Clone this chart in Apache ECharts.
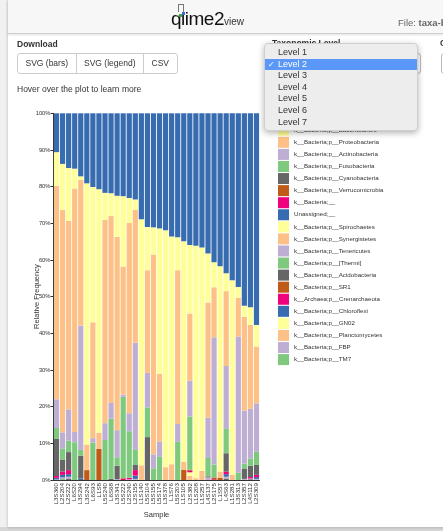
<!DOCTYPE html>
<html>
<head>
<meta charset="utf-8">
<script src="https://cdn.jsdelivr.net/npm/echarts@6/dist/echarts.min.js"></script>
<style>
  html, body { margin: 0; padding: 0; }
  body { width: 443px; height: 531px; overflow: hidden; background: #d6d6d6; font-family: "Liberation Sans", Arial, Helvetica, sans-serif; position: relative; }
  #panel { position: absolute; left: 8px; top: 0; width: 440px; height: 527px; background: #fff; box-shadow: 0 0 3px rgba(0,0,0,0.25); }
  #lside { position: absolute; left: 0; top: 0; width: 8px; height: 527px; background: #f1f1f1; }
  #header { position: absolute; left: 8px; top: 0; width: 440px; height: 33px; background: #f7f7f7; border-bottom: 1px solid #cfcfcf; box-shadow: 0 1px 2px rgba(0,0,0,0.12); z-index: 3; }
  #logo { position: absolute; left: 163px; top: 8px; font-size: 19px; color: #111; letter-spacing: -0.5px; }
  #logo small { font-size: 10px; color: #333; letter-spacing: 0; }
  #logo .dot { position: absolute; width: 3px; height: 3px; }
  #file { position: absolute; left: 390px; top: 17px; font-size: 9.5px; color: #666; white-space: nowrap; }
  #chart { position: absolute; left: 0; top: 0; width: 443px; height: 531px; z-index: 2; }
  .lbl { position: absolute; font-size: 8.5px; font-weight: bold; color: #333; z-index: 3; white-space: nowrap; }
  #btns { position: absolute; left: 17px; top: 53px; height: 19px; display: flex; border: 1px solid #ccc; border-radius: 3px; z-index: 3; background: #fff; }
  #btns div { font-size: 8.5px; color: #333; line-height: 19px; padding: 0 7.5px; border-right: 1px solid #ccc; }
  #btns div:last-child { border-right: none; }
  #hover { position: absolute; left: 17px; top: 84px; font-size: 8.5px; color: #333; z-index: 3; }
  .sel { position: absolute; top: 53px; height: 19px; border: 1px solid #bbb; border-radius: 3px; background: #fff; z-index: 3; }
  #menu { position: absolute; left: 264px; top: 43px; width: 152px; height: 86px; background: #ededed; border-radius: 4px; box-shadow: 0 2px 6px rgba(0,0,0,0.3); border: 1px solid #cfcfcf; z-index: 4; }
  #menu div { position: absolute; left: 0; width: 152px; height: 11.6px; line-height: 11.6px; font-size: 9px; color: #333; padding-left: 13px; box-sizing: border-box; }
  #menu div.on { background: #5a97f6; color: #fff; }
  #menu div.on span { position: absolute; left: 3px; font-size: 8px; }
</style>
</head>
<body>
<div id="lside"></div>
<div id="panel"></div>
<div id="header">
  <div id="logo">qiime2<small>view</small>
    <span class="dot" style="left:7px;top:-4px;width:4px;height:7px;border:1px solid #777;border-bottom:none;background:transparent"></span>
    <span class="dot" style="left:11px;top:4px;background:#3b6fd6"></span>
    <span class="dot" style="left:8px;top:6px;background:#33a84a"></span>
  </div>
  <div id="file">File: <b>taxa-bar-plots.qzv</b></div>
</div>
<div class="lbl" style="left:17px;top:39px">Download</div>
<div id="btns"><div>SVG (bars)</div><div>SVG (legend)</div><div>CSV</div></div>
<div id="hover">Hover over the plot to learn more</div>
<div class="lbl" style="left:272px;top:38px">Taxonomic Level</div>
<div class="sel" style="left:264px;width:155px"></div>
<div class="lbl" style="left:440px;top:38px">Color Palette</div>
<div class="sel" style="left:441px;width:60px"></div>
<div id="menu"></div>
<div id="chart"></div>
<script>
// Taxonomic level picker entries
const levels = ['Level 1', 'Level 2', 'Level 3', 'Level 4', 'Level 5', 'Level 6', 'Level 7'];
const currentLevel = 'Level 2';

// Sample ids, in plotting order
const samples = ['L3S360','L2S204','L2S222','L6S20','L3S294','L3S242','L6S93','L1S8','L5S240','L6S68',
  'L3S341','L5S222','L2S240','L2S155','L1S140','L5S104','L5S155','L5S174','L3S378','L1S76',
  'L5S203','L1S105','L2S382','L1S208','L1S257','L4S137','L2S175','L1S57','L4S63','L1S281',
  'L3S313','L2S357','L4S112','L2S309'];

// Relative abundance (%) per phylum and sample
const firmicutes      = [10.6,13.8,14.9,15.1,17.2,19.1,20.1,20.7,21.7,21.8,22.5,22.6,23.1,23.5,28.9,31.0,31.1,31.4,31.9,33.6,33.8,34.9,35.9,36.1,36.6,38.2,40.5,41.7,43.6,45.5,47.4,52.5,52.9,57.7];
const bacteroidetes   = [9.2,12.6,14.4,5.4,1.0,71.2,36.9,66.4,7.4,6.2,11.2,19.2,6.8,2.9,67.1,11.8,7.4,39.6,64.6,62.1,9.0,60.1,18.7,63.4,60.9,13.4,6.8,56.0,4.9,53.1,2.9,3.0,4.8,5.9];
const proteobacteria  = [58.2,60.6,51.3,66.4,39.7,7.0,31.6,4.4,55.4,51.0,52.7,34.9,51.9,36.2,4.0,28.0,54.5,18.5,3.5,4.3,41.9,2.2,18.3,0.5,2.5,31.4,13.6,1.7,20.4,1.4,10.6,25.6,22.9,15.5];
const actinobacteria  = [7.8,4.5,8.5,2.8,33.9,0,1.2,0,4.6,4.3,7.4,0.6,4.9,29.2,0,9.4,3.8,4.2,0,0,4.9,0,9.8,0,0,11.0,34.6,0,17.0,0,37.1,14.4,13.5,13.2];
const fusobacteria    = [3.0,2.9,3.1,10.3,1.6,0,10.2,0,10.9,16.4,2.3,22.2,12.7,4.1,0,8.1,3.2,6.3,0,0,10.4,0,14.5,0,0,5.0,3.5,0,6.8,0,2.0,1.5,2.0,3.6];
const cyanobacteria   = [10.1,3.3,4.9,0,6.2,0,0,0,0,0.3,3.7,0,0,1.4,0,11.7,0,0,0,0,0,0,0,0,0,0.3,0,0,5.0,0,0,2.7,3.1,2.7];
const verrucomicrobia = [0,0,0,0,0,2.7,0,8.5,0,0,0,0.2,0,0,0,0,0,0,0,0,0,2.8,0.3,0,0,0,0.5,0.6,0,0,0,0,0,0];
const bacteriaOther   = [0.5,0.9,1.1,0,0,0,0,0,0,0,0,0.3,0.4,1.5,0,0,0,0,0,0,0,0,0.4,0,0,0,0.2,0,0.7,0,0,0,0.4,0.6];
const unassigned      = [0.4,0.7,0.7,0,0.4,0,0,0,0,0,0,0,0,0.9,0,0,0,0,0,0,0,0,0,0,0,0,0,0,0.7,0,0,0,0,0.5];
const spirochaetes    = [0,0,0,0,0,0,0,0,0,0,0,0,0,0,0,0,0,0,0,0,0,0,1.0,0,0,0,0,0,0,0,0,0,0,0];
const synergistetes   = [0,0,0,0,0,0,0,0,0,0,0,0,0,0,0,0,0,0,0,0,0,0,1.1,0,0,0,0,0,0,0,0,0,0,0];
const tenericutes     = [0.1,0.3,0.5,0,0,0,0,0,0,0,0.2,0,0.2,0.2,0,0,0,0,0,0,0,0,0,0,0,0.7,0,0,0.5,0,0,0.3,0.2,0.2];
const thermi          = [0,0,0,0,0,0,0,0,0,0,0,0,0,0,0,0,0,0,0,0,0,0,0,0,0,0,0,0,0,0,0,0,0,0];
const acidobacteria   = [0.1,0.2,0.4,0,0,0,0,0,0,0,0,0,0,0.1,0,0,0,0,0,0,0,0,0,0,0,0,0,0,0.4,0,0,0,0.2,0.1];
const sr1             = [0,0,0,0,0,0,0,0,0,0,0,0,0,0,0,0,0,0,0,0,0,0,0,0,0,0,0,0,0,0,0,0,0,0];
const crenarchaeota   = [0,0,0,0,0,0,0,0,0,0,0,0,0,0,0,0,0,0,0,0,0,0,0,0,0,0,0,0,0,0,0,0,0,0];
const chloroflexi     = [0,0,0,0,0,0,0,0,0,0,0,0,0,0,0,0,0,0,0,0,0,0,0,0,0,0,0,0,0,0,0,0,0,0];
const gn02            = [0,0,0,0,0,0,0,0,0,0,0,0,0,0,0,0,0,0,0,0,0,0,0,0,0,0,0,0,0,0,0,0,0,0];
const planctomycetes  = [0,0,0,0,0,0,0,0,0,0,0,0,0,0,0,0,0,0,0,0,0,0,0,0,0,0,0,0,0,0,0,0,0,0];
const fbp             = [0,0,0,0,0,0,0,0,0,0,0,0,0,0,0,0,0,0,0,0,0,0,0,0,0,0,0,0,0,0,0,0,0,0];
const tm7             = [0,0.2,0,0,0,0,0,0,0,0,0,0,0,0,0,0,0,0,0,0,0,0,0,0,0,0,0,0,0,0,0,0,0,0];

// Y axis tick values
const yTicks = [0, 10, 20, 30, 40, 50, 60, 70, 80, 90, 100];

// Taxa from the bottom of each stack to the top
const taxa = [
  ['k__Bacteria;p__TM7', tm7],
  ['k__Bacteria;p__FBP', fbp],
  ['k__Bacteria;p__Planctomycetes', planctomycetes],
  ['k__Bacteria;p__GN02', gn02],
  ['k__Bacteria;p__Chloroflexi', chloroflexi],
  ['k__Archaea;p__Crenarchaeota', crenarchaeota],
  ['k__Bacteria;p__SR1', sr1],
  ['k__Bacteria;p__Acidobacteria', acidobacteria],
  ['k__Bacteria;p__[Thermi]', thermi],
  ['k__Bacteria;p__Tenericutes', tenericutes],
  ['k__Bacteria;p__Synergistetes', synergistetes],
  ['k__Bacteria;p__Spirochaetes', spirochaetes],
  ['Unassigned;__', unassigned],
  ['k__Bacteria;__', bacteriaOther],
  ['k__Bacteria;p__Verrucomicrobia', verrucomicrobia],
  ['k__Bacteria;p__Cyanobacteria', cyanobacteria],
  ['k__Bacteria;p__Fusobacteria', fusobacteria],
  ['k__Bacteria;p__Actinobacteria', actinobacteria],
  ['k__Bacteria;p__Proteobacteria', proteobacteria],
  ['k__Bacteria;p__Bacteroidetes', bacteroidetes],
  ['k__Bacteria;p__Firmicutes', firmicutes]
];

// Accent palette, assigned by stack position
const accent = ['#7fc97f', '#beaed4', '#fdc086', '#ffff99', '#386cb0', '#f0027f', '#bf5b17', '#666666'];

// level menu
const menu = document.getElementById('menu');
levels.forEach((lv, i) => {
  const d = document.createElement('div');
  d.style.top = (3 + i * 11.6) + 'px';
  if (lv === currentLevel) { d.className = 'on'; d.innerHTML = '<span>&#10003;</span>' + lv; }
  else d.textContent = lv;
  menu.appendChild(d);
});

// each sample's column is shown as relative frequency
const totals = samples.map((_, j) => taxa.reduce((s, t) => s + t[1][j], 0));

const chart = echarts.init(document.getElementById('chart'), null, { renderer: 'canvas' });
chart.setOption({
  animation: false,
  textStyle: { fontFamily: '"Liberation Sans", Arial, Helvetica, sans-serif' },
  grid: { left: 53.5, top: 113.3, width: 206, height: 366.7, containLabel: false },
  legend: {
    orient: 'vertical', left: 278, top: 112.7,
    itemWidth: 11, itemHeight: 11, itemGap: 1.07,
    icon: 'rect', selectedMode: false, padding: 0,
    textStyle: { fontSize: 6.2, color: '#333' },
    data: taxa.map(t => t[0]).reverse()
  },
  xAxis: {
    type: 'category', data: samples,
    name: 'Sample', nameLocation: 'middle', nameGap: 31, nameMoveOverlap: false,
    nameTextStyle: { fontSize: 7.5, color: '#333' },
    axisLine: { lineStyle: { color: '#333', width: 1 } },
    axisTick: { length: 3, alignWithLabel: true, lineStyle: { color: '#333' } },
    axisLabel: { rotate: 90, interval: 0, fontSize: 6.2, color: '#333', margin: 3 }
  },
  yAxis: {
    type: 'value', min: 0, max: 100, interval: 10,
    name: 'Relative Frequency', nameLocation: 'middle', nameGap: 13, nameRotate: 90, nameMoveOverlap: false,
    nameTextStyle: { fontSize: 7.5, color: '#333' },
    splitLine: { show: false },
    axisLine: { show: true, lineStyle: { color: '#333', width: 1 } },
    axisTick: { show: true, length: 3, lineStyle: { color: '#333' } },
    axisLabel: { fontSize: 5.8, color: '#333', margin: 3,
      customValues: yTicks, formatter: v => v + '%' }
  },
  series: taxa.map((t, i) => ({
    name: t[0], type: 'bar', stack: 'all',
    barCategoryGap: '14%',
    itemStyle: { color: accent[i % 8] },
    data: t[1].map((v, j) => v / totals[j] * 100)
  }))
});
</script>
</body>
</html>
